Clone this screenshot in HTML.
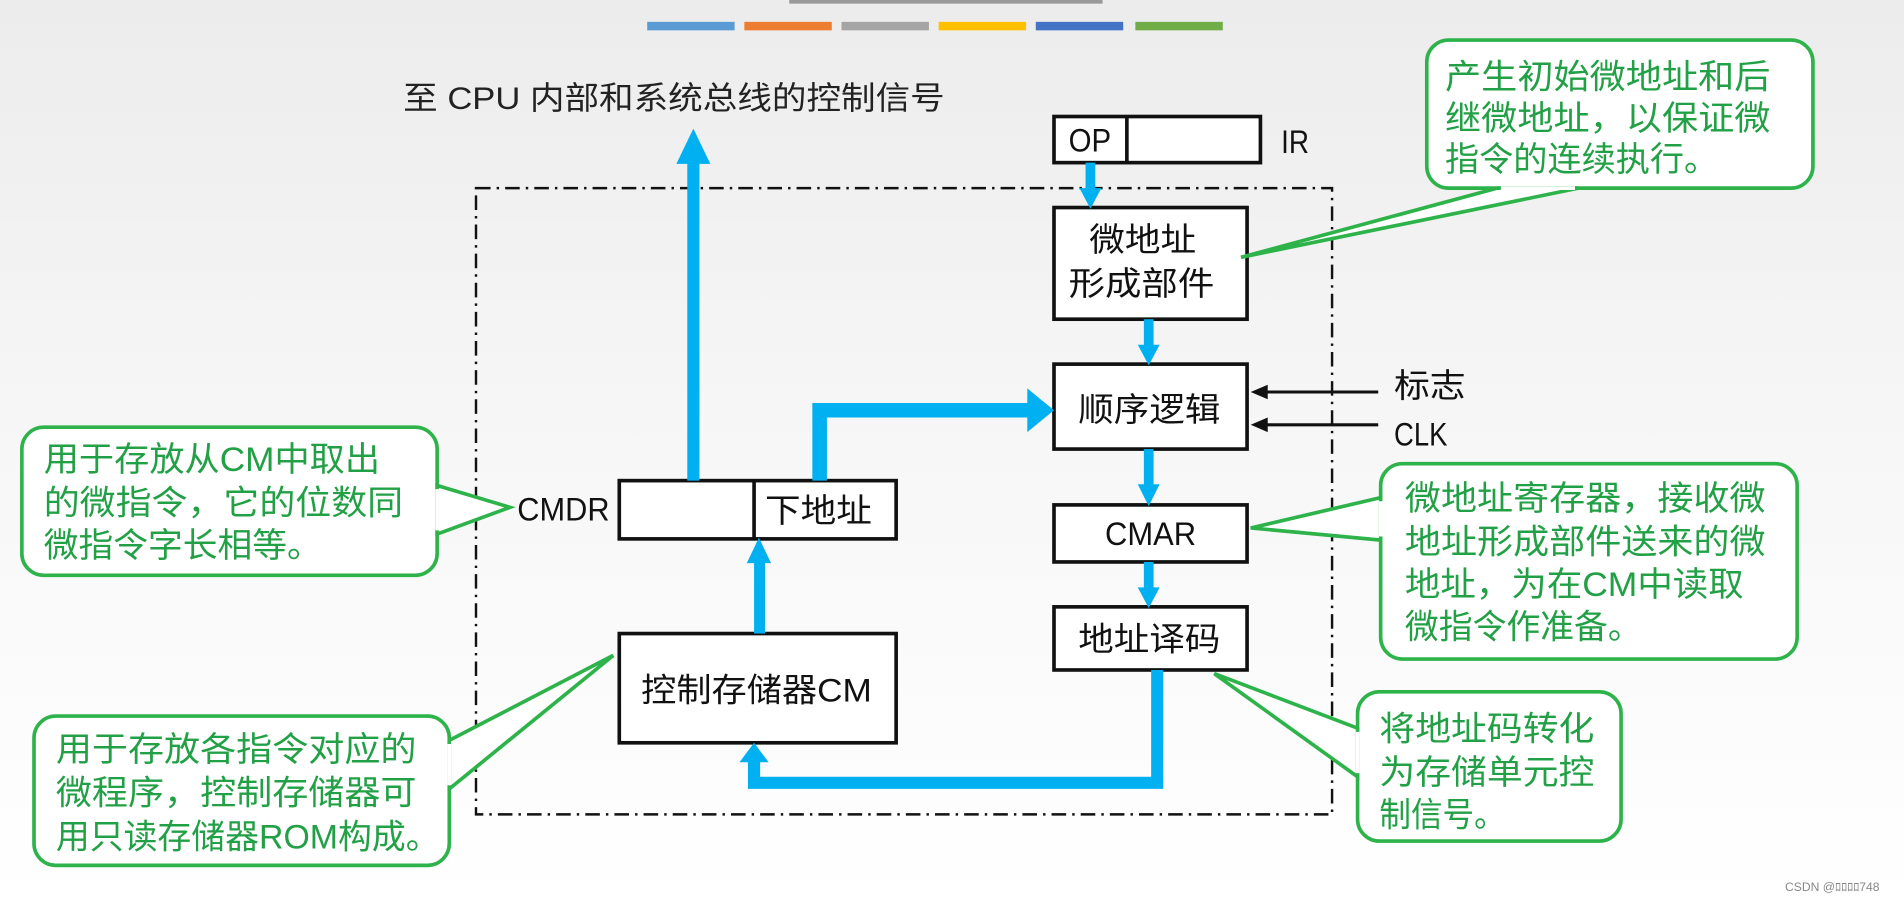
<!DOCTYPE html>
<html><head><meta charset="utf-8"><style>
html,body{margin:0;padding:0;width:1904px;height:903px;overflow:hidden;background:#fff}
svg{display:block}
text{font-family:"Liberation Sans","Noto Sans CJK SC",sans-serif}
</style></head><body>
<svg width="1904" height="903" viewBox="0 0 1568 744" preserveAspectRatio="none" xmlns="http://www.w3.org/2000/svg">
<defs><linearGradient id="bg" x1="0" y1="0" x2="0" y2="1"><stop offset="0" stop-color="#ececec"/><stop offset="0.5" stop-color="#f7f7f7"/><stop offset="1" stop-color="#ffffff"/></linearGradient></defs>
<rect width="1568" height="744" fill="url(#bg)"/>
<rect x="650" y="0" width="258" height="3" fill="#999"/>
<rect x="533" y="18" width="72" height="7" fill="#5b9bd5"/>
<rect x="613" y="18" width="72" height="7" fill="#ed7d31"/>
<rect x="693" y="18" width="72" height="7" fill="#a5a5a5"/>
<rect x="773" y="18" width="72" height="7" fill="#ffc000"/>
<rect x="853" y="18" width="72" height="7" fill="#4472c4"/>
<rect x="935" y="18" width="72" height="7" fill="#70ad47"/>
<text x="332" y="90" font-size="26" fill="#222" textLength="446" lengthAdjust="spacingAndGlyphs">至 CPU 内部和系统总线的控制信号</text>
<rect x="392" y="155" width="705" height="516" fill="none" stroke="#111" stroke-width="2" stroke-dasharray="12,5,2,5"/>
<g fill="#fff" stroke="#111" stroke-width="3">
<rect x="868" y="96" width="170" height="38"/><line x1="928" y1="96" x2="928" y2="134"/>
<rect x="868" y="171" width="159" height="92"/>
<rect x="868" y="300" width="159" height="70"/>
<rect x="868" y="416" width="159" height="47"/>
<rect x="868" y="500" width="159" height="52"/>
<rect x="510" y="396" width="228" height="48"/><line x1="621" y1="396" x2="621" y2="444"/>
<rect x="510" y="522" width="228" height="90"/>
</g>
<g font-size="27" fill="#111" lengthAdjust="spacingAndGlyphs">
<text x="880" y="125" textLength="35" lengthAdjust="spacingAndGlyphs">OP</text>
<text x="1055" y="126" textLength="23" lengthAdjust="spacingAndGlyphs">IR</text>
<text x="897" y="207" textLength="88" lengthAdjust="spacingAndGlyphs">微地址</text>
<text x="880" y="243" textLength="120" lengthAdjust="spacingAndGlyphs">形成部件</text>
<text x="888" y="347" textLength="117" lengthAdjust="spacingAndGlyphs">顺序逻辑</text>
<text x="910" y="449" textLength="75" lengthAdjust="spacingAndGlyphs">CMAR</text>
<text x="888" y="536" textLength="117" lengthAdjust="spacingAndGlyphs">地址译码</text>
<text x="630" y="430" textLength="88" lengthAdjust="spacingAndGlyphs">下地址</text>
<text x="426" y="429" textLength="76" lengthAdjust="spacingAndGlyphs">CMDR</text>
<text x="528" y="578" textLength="190" lengthAdjust="spacingAndGlyphs">控制存储器CM</text>
<text x="1148" y="327" textLength="59" lengthAdjust="spacingAndGlyphs">标志</text>
<text x="1148" y="367" textLength="44" lengthAdjust="spacingAndGlyphs">CLK</text>
</g>
<g fill="#00b0f0">
<rect x="566" y="130" width="10" height="266"/><polygon points="571,106 557,135 585,135"/>
<rect x="894" y="134" width="8" height="24"/><polygon points="898,172 889,155 907,155"/>
<rect x="942" y="263" width="8" height="24"/><polygon points="946,301 937,284 955,284"/>
<rect x="942" y="370" width="8" height="32"/><polygon points="946,417 937,399 955,399"/>
<rect x="942" y="463" width="8" height="24"/><polygon points="946,501 937,484 955,484"/>
<rect x="621" y="462" width="9" height="60"/><polygon points="625,443 615,464 635,464"/>
<polygon points="669,396 681,396 681,344 846,344 846,356 868,338 846,320 846,332 669,332"/>
<polygon points="948,552 958,552 958,650 616,650 616,628 609,628 621,612 633,628 626,628 626,640 948,640"/>
</g>
<g stroke="#111" stroke-width="2.5"><line x1="1135" y1="323" x2="1040" y2="323"/><line x1="1135" y1="350" x2="1040" y2="350"/></g>
<polygon points="1030,323 1044,317 1044,329" fill="#111"/><polygon points="1030,350 1044,344 1044,356" fill="#111"/>
<g fill="#fff" stroke="#2db34a" stroke-width="3">
<rect x="1175" y="33" width="318" height="122" rx="18"/>
<rect x="18" y="352" width="342" height="122" rx="18"/>
<rect x="1137" y="382" width="343" height="161" rx="18"/>
<rect x="28" y="590" width="342" height="123" rx="18"/>
<rect x="1118" y="570" width="217" height="123" rx="18"/>
<polygon points="1233,155 1022,212 1300,155"/>
<polygon points="360,400 420,418 360,440"/>
<polygon points="1137,410 1030,435 1137,445"/>
<polygon points="370,610 505,540 370,650"/>
<polygon points="1118,600 1000,555 1118,640"/>
</g>
<g stroke="#fff" stroke-width="3"><line x1="1236" y1="155" x2="1297" y2="155"/><line x1="360" y1="403" x2="360" y2="437"/><line x1="1137" y1="413" x2="1137" y2="442"/><line x1="370" y1="613" x2="370" y2="647"/><line x1="1118" y1="603" x2="1118" y2="637"/></g>
<g font-size="28" fill="#22a046">
<text x="1190" y="73" textLength="268" lengthAdjust="spacingAndGlyphs">产生初始微地址和后</text><text x="1190" y="107" textLength="268" lengthAdjust="spacingAndGlyphs">继微地址，以保证微</text><text x="1190" y="141" textLength="225" lengthAdjust="spacingAndGlyphs">指令的连续执行。</text>
<text x="36" y="388" textLength="277" lengthAdjust="spacingAndGlyphs">用于存放从CM中取出</text><text x="36" y="424" textLength="296" lengthAdjust="spacingAndGlyphs">的微指令，它的位数同</text><text x="36" y="459" textLength="229" lengthAdjust="spacingAndGlyphs">微指令字长相等。</text>
<text x="1157" y="420" textLength="297" lengthAdjust="spacingAndGlyphs">微地址寄存器，接收微</text><text x="1157" y="456" textLength="297" lengthAdjust="spacingAndGlyphs">地址形成部件送来的微</text><text x="1157" y="491" textLength="279" lengthAdjust="spacingAndGlyphs">地址，为在CM中读取</text><text x="1157" y="526" textLength="195" lengthAdjust="spacingAndGlyphs">微指令作准备。</text>
<text x="46" y="627" textLength="297" lengthAdjust="spacingAndGlyphs">用于存放各指令对应的</text><text x="46" y="663" textLength="297" lengthAdjust="spacingAndGlyphs">微程序，控制存储器可</text><text x="46" y="699" textLength="316" lengthAdjust="spacingAndGlyphs">用只读存储器ROM构成。</text>
<text x="1136" y="610" textLength="177" lengthAdjust="spacingAndGlyphs">将地址码转化</text><text x="1136" y="646" textLength="177" lengthAdjust="spacingAndGlyphs">为存储单元控</text><text x="1136" y="681" textLength="104" lengthAdjust="spacingAndGlyphs">制信号。</text>
</g>
<text x="1470" y="734" font-size="10" fill="#888">CSDN @ﾛﾛﾛﾛ748</text>
</svg>
</body></html>
